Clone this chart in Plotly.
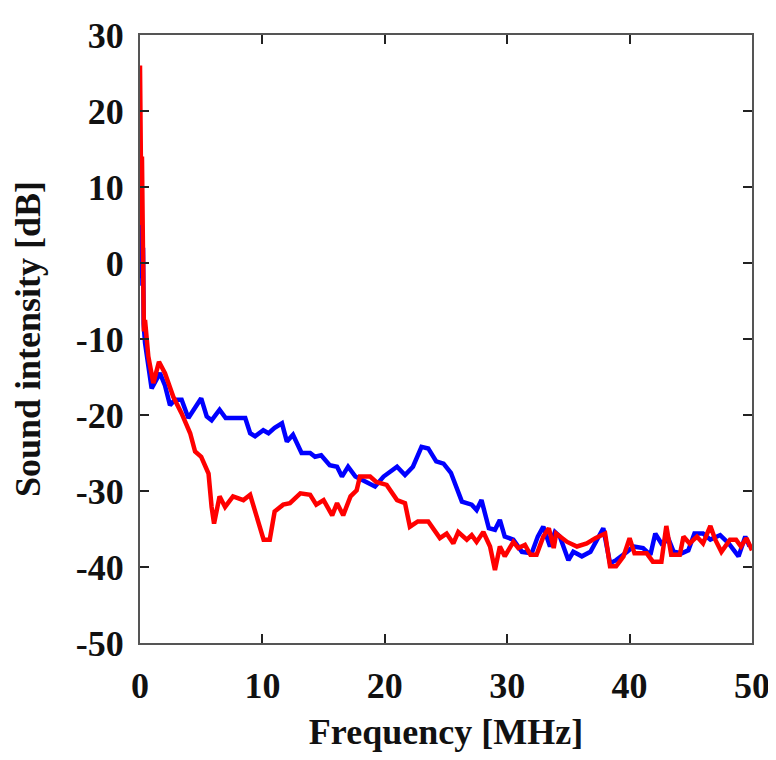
import plotly.graph_objects as go

# Blue series (frequency in MHz, intensity in dB)
blue_f = [0, 0.05, 0.1, 0.15, 0.2, 0.25, 0.3,
          0.41, 0.95, 1.63, 2.04, 2.45, 2.86, 3.4, 3.95, 4.5, 5.0,
          5.45, 5.85, 6.5, 7.0, 8.6, 9.0, 9.4, 10.07, 10.5, 11.0,
          11.6, 12.0, 12.5, 13.2, 13.9, 14.3, 14.8, 15.5, 16.1, 16.5,
          17.0, 17.6, 18.2, 19.2, 19.9, 21.0, 21.65, 22.3, 23.0, 23.55,
          24.2, 24.8, 25.4, 26.3, 27.1, 27.5, 27.9, 28.5, 29.0, 29.4,
          29.8, 30.5, 31.2, 32.0, 32.5, 32.95, 33.5, 33.9, 34.3, 35.0,
          35.4, 36.1, 36.8, 37.3, 37.85, 38.4, 38.9, 39.8, 40.3, 41.1,
          41.7, 42.1, 42.6, 43.2, 43.6, 44.25, 44.8, 45.3, 46.0, 46.6,
          47.4, 48.1, 48.9, 49.45, 49.8]
blue_db = [3, 7, -2, 4, -3, 2, -8,
           -10.5, -16.5, -14.5, -16.1, -18.7, -18.0, -18.0, -20.4, -19.1, -17.8,
           -20.2, -20.7, -19.3, -20.4, -20.4, -22.4, -22.8, -22.0, -22.4, -21.7,
           -21.1, -23.5, -22.6, -25.0, -25.0, -25.5, -25.3, -26.6, -26.8, -28.1,
           -26.8, -28.1, -28.6, -29.4, -28.1, -26.8, -27.9, -26.8, -24.2, -24.4,
           -26.1, -26.4, -27.6, -31.4, -31.8, -32.5, -31.2, -34.9, -35.1, -33.8,
           -36.0, -36.4, -38.0, -38.2, -36.0, -34.7, -37.3, -35.4, -36.0, -39.1,
           -38.0, -38.6, -38.0, -36.4, -34.9, -39.5, -39.1, -38.0, -37.3, -37.5,
           -38.4, -35.6, -36.9, -36.4, -38.0, -38.2, -37.8, -35.6, -35.6, -36.4,
           -35.8, -36.9, -38.6, -36.0, -37.3]

# Red series
red_f = [0, 0.04, 0.08, 0.12, 0.16, 0.2, 0.24, 0.28, 0.32,
         0.41, 0.68, 1.09, 1.55, 2.04, 2.72, 3.4, 4.1, 4.5, 5.0,
         5.6, 5.85, 6.05, 6.5, 6.95, 7.6, 8.45, 9.0, 9.5, 10.1,
         10.6, 11.0, 11.7, 12.25, 13.1, 13.9, 14.4, 15.0, 15.7, 16.1,
         16.6, 17.2, 17.7, 17.97, 18.8, 19.3, 20.15, 21.0, 21.65, 22.05,
         22.7, 23.55, 24.5, 25.05, 25.6, 26.0, 26.7, 27.1, 27.5, 28.05,
         28.6, 29.0, 29.4, 29.8, 30.5, 30.9, 31.45, 31.9, 32.4, 32.95,
         33.4, 33.8, 34.0, 34.9, 35.7, 36.5, 37.2, 38.0, 38.4, 38.9,
         39.5, 40.0, 40.4, 41.4, 41.9, 42.6, 43.0, 43.4, 44.1, 44.4,
         44.9, 45.5, 46.0, 46.6, 47.0, 47.5, 48.2, 48.7, 49.1, 49.55,
         50.0]
red_db = [26, 8, 20, 5, 14, 0, 9, -4, -9,
          -7.5, -12.3, -15.8, -13.0, -14.5, -17.6, -19.8, -22.4, -24.8, -25.5,
          -27.7, -32.1, -34.3, -30.7, -32.1, -30.7, -31.2, -30.5, -33.4, -36.4,
          -36.4, -32.7, -31.8, -31.6, -30.3, -30.5, -31.8, -31.2, -33.2, -31.6,
          -33.2, -30.7, -29.9, -28.1, -28.1, -28.8, -29.2, -31.2, -31.6, -34.7,
          -34.0, -34.0, -36.2, -35.6, -36.9, -35.4, -36.4, -35.8, -36.7, -35.4,
          -37.3, -40.4, -37.3, -38.6, -36.7, -37.5, -37.1, -38.4, -38.4, -36.0,
          -34.9, -37.5, -35.6, -36.7, -37.3, -36.9, -36.2, -35.6, -39.9, -39.9,
          -38.6, -36.2, -38.2, -38.2, -39.3, -39.3, -34.6, -38.4, -38.4, -36.0,
          -36.9, -36.0, -36.9, -34.6, -36.4, -38.0, -36.4, -36.4, -37.3, -36.2,
          -37.8]

x_ticks = [0, 10, 20, 30, 40, 50]
y_ticks = [30, 20, 10, 0, -10, -20, -30, -40, -50]

font_family = "Liberation Serif"

fig = go.Figure()
fig.add_trace(go.Scatter(x=blue_f, y=blue_db, mode="lines",
                         line=dict(color="#0000FF", width=4.5), showlegend=False))
fig.add_trace(go.Scatter(x=red_f, y=red_db, mode="lines",
                         line=dict(color="#FF0000", width=4.5), showlegend=False))

axis_common = dict(showline=True, linecolor="#555555", linewidth=2, mirror="ticks",
                   ticks="inside", ticklen=9, tickwidth=2, tickcolor="#222222",
                   showgrid=False, zeroline=False, automargin=False,
                   tickfont=dict(family=font_family, size=36, color="#111111",
                                 weight="bold"))

fig.update_xaxes(range=[0, 50], tickvals=x_ticks, ticktext=[str(v) for v in x_ticks],
                 ticklabelstandoff=10,
                 title=dict(text="Frequency [MHz]", standoff=22,
                            font=dict(family=font_family, size=36, color="#111111",
                                      weight="bold")),
                 **axis_common)
fig.update_yaxes(range=[-50, 30], tickvals=y_ticks, ticktext=[str(v) for v in y_ticks],
                 ticklabelstandoff=7,
                 title=dict(text="Sound intensity [dB]", standoff=24,
                            font=dict(family=font_family, size=36, color="#111111",
                                      weight="bold")),
                 **axis_common)

fig.update_layout(width=768, height=744,
                  margin=dict(l=132, r=24, t=27, b=109),
                  plot_bgcolor="white", paper_bgcolor="white")

fig.write_html("out.html")
